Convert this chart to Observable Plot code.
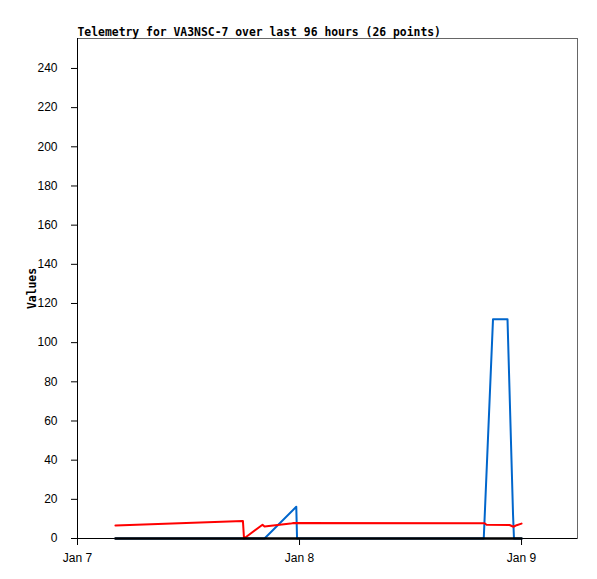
<!DOCTYPE html>
<html>
<head>
<meta charset="utf-8">
<script src="https://cdn.jsdelivr.net/npm/d3@7"></script>
<script src="https://cdn.jsdelivr.net/npm/@observablehq/plot@0.6"></script>
<style>
  html, body { margin: 0; padding: 0; background: #fff; }
  #chart { width: 597px; height: 579px; }
</style>
</head>
<body>
<div id="chart"></div>
<script>
// ---- data ----
const titleText = "Telemetry for VA3NSC-7 over last 96 hours (26 points)";
const yLabel = "Values";

const redTimes  = ["2024-01-07T04:06Z","2024-01-07T17:53Z","2024-01-07T18:00Z","2024-01-07T20:00Z","2024-01-07T20:13Z","2024-01-07T23:02Z","2024-01-07T23:21Z","2024-01-08T20:00Z","2024-01-08T20:13Z","2024-01-08T22:42Z","2024-01-08T23:08Z","2024-01-08T23:28Z","2024-01-09T00:00Z"];
const redValues = [6.6, 8.9, 0, 7.0, 6.1, 7.6, 7.9, 7.8, 7.0, 6.9, 6.0, 6.8, 7.6];

const blueTimes  = ["2024-01-07T04:06Z","2024-01-07T20:13Z","2024-01-07T23:39Z","2024-01-07T23:44Z","2024-01-08T19:55Z","2024-01-08T20:55Z","2024-01-08T22:29Z","2024-01-08T23:05Z","2024-01-08T23:11Z","2024-01-09T00:00Z"];
const blueValues = [0, 0, 16.2, 0, 0, 112, 112, 12, 0, 0];

const blackTimes  = ["2024-01-07T04:06Z","2024-01-09T00:00Z"];
const blackValues = [0, 0];

const xTickDates = ["2024-01-07T00:00Z","2024-01-08T00:00Z","2024-01-09T00:00Z"];
const yTickValues = [0,20,40,60,80,100,120,140,160,180,200,220,240];
const xDomain = ["2024-01-07T00:00Z","2024-01-09T06:03Z"];
const yDomain = [0, 255.3];

// ---- build tables ----
const toRows = (ts, vs) => ts.map((t, i) => ({t: new Date(t), v: vs[i]}));
const red = toRows(redTimes, redValues);
const blue = toRows(blueTimes, blueValues);
const black = toRows(blackTimes, blackValues);

const chart = Plot.plot({
  width: 597,
  height: 579,
  marginLeft: 77,
  marginRight: 20,
  marginTop: 38,
  marginBottom: 41,
  style: {fontFamily: "'Liberation Sans', Arial, sans-serif", fontSize: "12px", background: "#fff", color: "#000"},
  x: {type: "utc", domain: xDomain.map(d => new Date(d))},
  y: {domain: yDomain},
  marks: [
    Plot.frame({stroke: "#666"}),
    Plot.axisY({ticks: yTickValues, tickSize: 6, tickPadding: 14, label: null, stroke: "#000"}),
    Plot.axisX({ticks: xTickDates.map(d => new Date(d)), tickFormat: d3.utcFormat("%b %-d"), tickSize: 7, tickPadding: 8, label: null, stroke: "#000"}),
    Plot.ruleX([new Date(xDomain[0])], {stroke: "#000"}),
    Plot.ruleY([0], {stroke: "#000"}),
    Plot.line(blue, {x: "t", y: "v", stroke: "#0066cc", strokeWidth: 2, curve: "linear"}),
    Plot.line(red, {x: "t", y: "v", stroke: "#ff0000", strokeWidth: 2, curve: "linear"}),
    Plot.line(black, {x: "t", y: "v", stroke: "#000", strokeWidth: 2.5, curve: "linear"}),
    Plot.text([titleText], {frameAnchor: "top-left", textAnchor: "start", lineAnchor: "bottom", dy: -3, fontFamily: "'DejaVu Sans Mono', monospace", fontWeight: "bold", fontSize: 11.4, fill: "#000"}),
    Plot.text([yLabel], {frameAnchor: "left", textAnchor: "middle", lineAnchor: "middle", rotate: -90, dx: -45, fontFamily: "'DejaVu Sans Mono', monospace", fontWeight: "bold", fontSize: 11.4, fill: "#000"})
  ]
});
document.getElementById("chart").appendChild(chart);
</script>
</body>
</html>
